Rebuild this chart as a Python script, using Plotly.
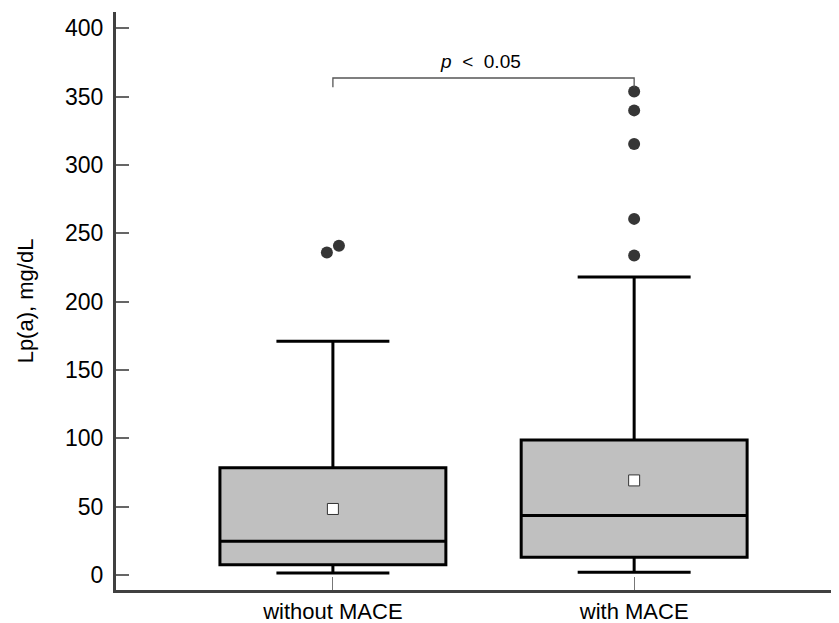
import plotly.graph_objects as go

# ---- data ----
categories = ["without MACE", "with MACE"]
q1 = [7.5, 12.9]
median = [24.6, 43.6]
q3 = [78.5, 98.7]
lower_whisker = [1.5, 2.0]
upper_whisker = [171.0, 218.0]
means = [48.3, 69.2]
outliers_without = [236.0, 241.0]
outliers_with = [233.8, 260.6, 315.4, 340.0, 353.9]
y_ticks = [0, 50, 100, 150, 200, 250, 300, 350, 400]
p_label = "<i>p</i>  <  0.05"

FONT = "Liberation Sans, Arial, sans-serif"
pos = list(range(len(categories)))

fig = go.Figure()
for i in pos:
    fig.add_trace(go.Box(
        x=[i], q1=[q1[i]], median=[median[i]], q3=[q3[i]],
        lowerfence=[lower_whisker[i]], upperfence=[upper_whisker[i]],
        width=0.75, whiskerwidth=0.5, boxpoints=False,
        fillcolor="#c0c0c0", line=dict(color="#000000", width=3),
        showlegend=False, hoverinfo="skip",
    ))

# outliers (small horizontal spread to mimic jitter of overlapping points)
jit_without = [-0.02, 0.02]
fig.add_trace(go.Scatter(
    x=[pos[0] + j for j in jit_without], y=outliers_without, mode="markers",
    marker=dict(size=12, color="#363636"), showlegend=False, hoverinfo="skip"))
fig.add_trace(go.Scatter(
    x=[pos[1]] * len(outliers_with), y=outliers_with, mode="markers",
    marker=dict(size=12, color="#363636"), showlegend=False, hoverinfo="skip"))

# means
fig.add_trace(go.Scatter(
    x=pos, y=means, mode="markers",
    marker=dict(symbol="square", size=11, color="white",
                line=dict(color="#333333", width=1)),
    showlegend=False, hoverinfo="skip"))

# significance bracket
br_top, br_end = 363.7, 357.0
fig.add_shape(type="path",
              path=f"M {pos[0]},{br_end} L {pos[0]},{br_top} L {pos[1]},{br_top} L {pos[1]},{br_end}",
              line=dict(color="#555555", width=1.3))
fig.add_annotation(x=(pos[0] + pos[1]) / 2 - 0.01, y=376, text=p_label, showarrow=False,
                   font=dict(family=FONT, size=19, color="#000000"),
                   xanchor="center", yanchor="middle")

# page body has an 8px margin -> figure is 8px smaller than the window
fig.update_layout(
    width=831, height=615,
    margin=dict(l=108, r=0, t=4, b=33),
    plot_bgcolor="white", paper_bgcolor="white",
    font=dict(family=FONT, color="#000000"),
)
fig.update_xaxes(
    range=[-0.72, 1.68], tickvals=pos, ticktext=categories,
    showgrid=False, zeroline=False, automargin=False,
    showline=True, linecolor="#404040", linewidth=3,
    ticks="inside", ticklen=13, tickcolor="#777777", tickwidth=1,
    tickfont=dict(family=FONT, size=22, color="#000000"),
)
fig.update_yaxes(
    range=[-11, 412], tickvals=y_ticks,
    showgrid=False, zeroline=False, automargin=False,
    showline=True, linecolor="#404040", linewidth=3,
    ticks="inside", ticklen=13, tickcolor="#666666", tickwidth=1.5,
    tickfont=dict(family=FONT, size=23, color="#000000"),
    ticklabelstandoff=5,
    title=dict(text="Lp(a), mg/dL", font=dict(family=FONT, size=22, color="#000000"),
               standoff=26),
)

fig.write_html("out.html")
